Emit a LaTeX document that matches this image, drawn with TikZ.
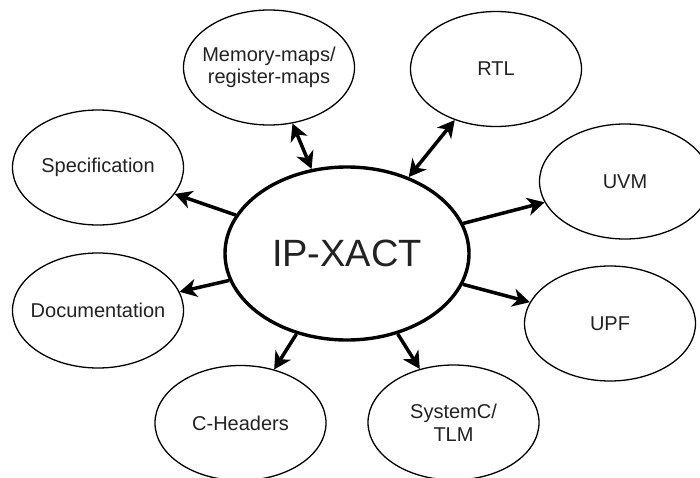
\documentclass[tikz,border=0pt]{standalone}
\usepackage{fontspec}
\setmainfont{Liberation Sans}
\usetikzlibrary{shapes.geometric,arrows.meta}
\definecolor{inkgray}{HTML}{222222}
\begin{document}
\begin{tikzpicture}[x=1pt,y=-1pt,
  outer/.style={ellipse,draw=black,line width=1.3pt,fill=white,
    minimum width=171pt,minimum height=115pt,inner sep=0pt},
  hub/.style={ellipse,draw=black,line width=3.4pt,fill=white,
    minimum width=244pt,minimum height=173pt,inner sep=0pt},
  lbl/.style={font=\fontsize{20pt}{22.5pt}\selectfont,text=inkgray,align=center,inner sep=0pt},
  link/.style={line width=3.5pt,-{Stealth[length=17pt,width=18pt,inset=5pt]}},
  twoway/.style={line width=3.5pt,{Stealth[length=17pt,width=18pt,inset=5pt]}-{Stealth[length=17pt,width=18pt,inset=5pt]}}]
\useasboundingbox (0,0) rectangle (700,478);
\clip (0,0) rectangle (700,478);
\fill[white] (0,0) rectangle (700,478);

% central hub
\node[hub] (ip) at (347,253.5) {};
\node[lbl,font=\fontsize{38pt}{40pt}\selectfont] (ip-t) at (ip) {IP-XACT};

% surrounding ellipses
\node[outer] (mem)  at (269,67.5) {};
\node[outer] (rtl)  at (496,69)   {};
\node[outer] (spec) at (98,167.5) {};
\node[outer] (doc)  at (98,310.5) {};
\node[outer] (uvm)  at (625,181.5){};
\node[outer] (upf)  at (610,323.5){};
\node[outer] (ch)   at (240.5,423){};
\node[outer] (sc)   at (453.5,422.5){};

\node[lbl] (mem-t)  at (mem)  {Memory-maps/\\register-maps};
\node[lbl] (rtl-t)  at (rtl)  {RTL};
\node[lbl] (spec-t) at (spec) {Specification};
\node[lbl] (doc-t)  at (doc)  {Documentation};
\node[lbl] (uvm-t)  at (uvm)  {UVM};
\node[lbl] (upf-t)  at (upf)  {UPF};
\node[lbl] (ch-t)   at (ch)   {C-Headers};
\node[lbl] (sc-t)   at (sc)   {SystemC/\\TLM};

% connectors
\draw[twoway] (ip) -- (mem);
\draw[twoway] (ip) -- (rtl);
\draw[link] (ip) -- (spec);
\draw[link] (ip) -- (doc);
\draw[link] (ip) -- (uvm);
\draw[link] (ip) -- (upf);
\draw[link] (ip) -- (ch);
\draw[link] (ip) -- (sc);
\end{tikzpicture}
\end{document}
